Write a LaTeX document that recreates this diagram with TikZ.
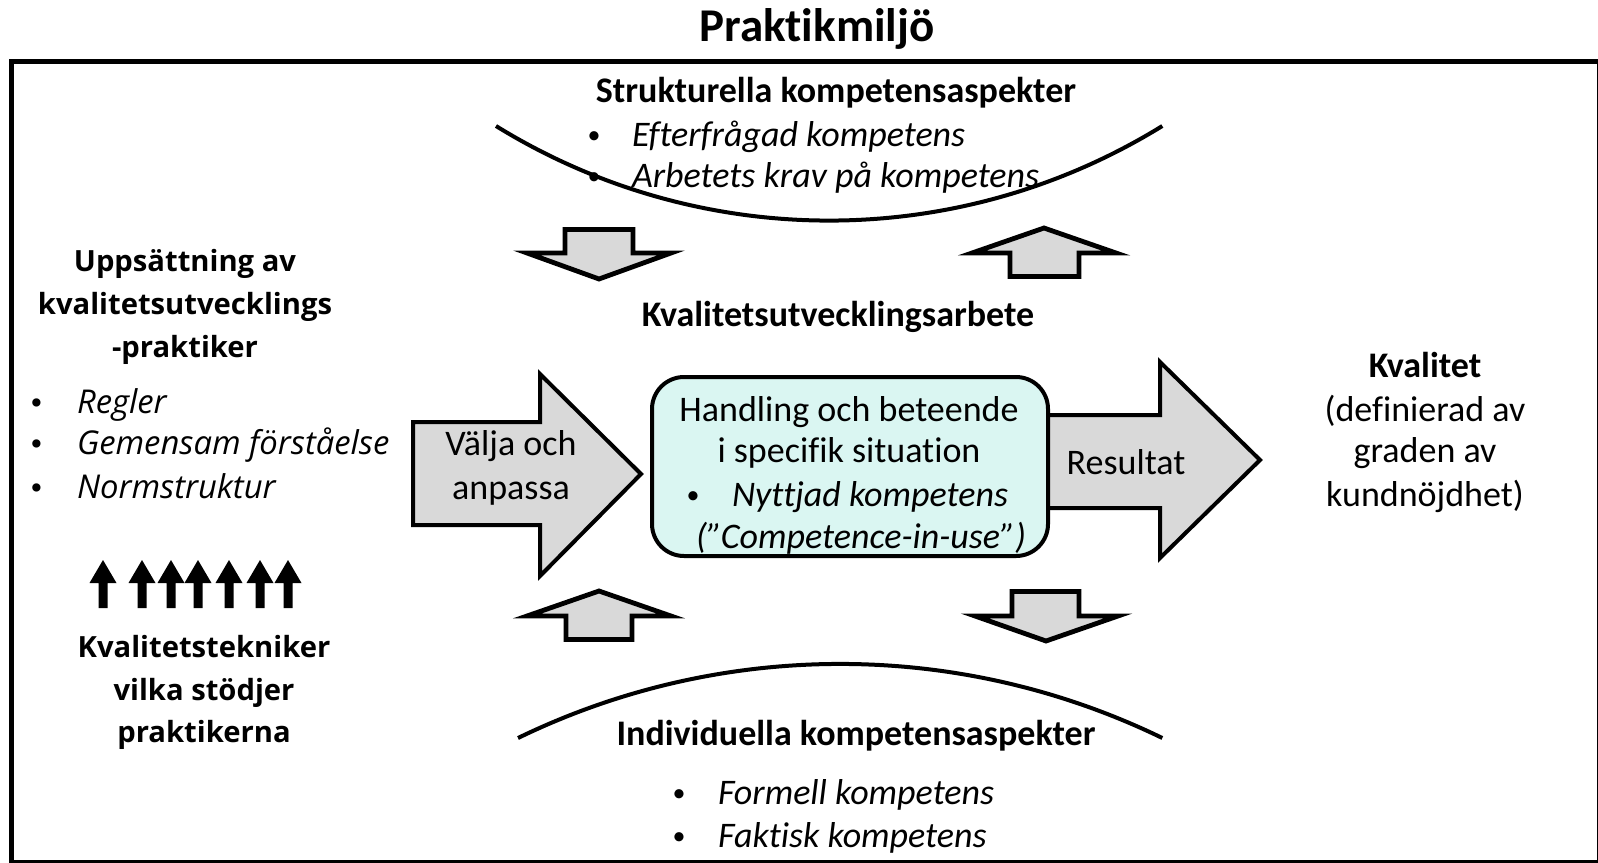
\documentclass[tikz,border=0pt]{standalone}
\usepackage{fontspec}
\usepackage{graphicx}
\setmainfont{Carlito}[RawFeature={-liga;-clig;-dlig}]
\newfontfamily\sidefont{Open Sans}
\newfontfamily\bulletfont{DejaVu Sans}
\definecolor{arrowgray}{HTML}{D9D9D9}
\definecolor{boxcyan}{HTML}{DAF6F2}
\newcommand{\smallbullet}{\raisebox{1.2pt}{\scalebox{0.72}{•}}}
\begin{document}
\begin{tikzpicture}[x=0.5pt,y=-0.5pt,
  every node/.style={inner sep=0pt, outer sep=0pt},
  body/.style={font=\fontsize{18}{21.3}\selectfont},
  bodyb/.style={font=\fontsize{18}{21.3}\selectfont\bfseries},
  bodyi/.style={font=\fontsize{18}{21.3}\selectfont\itshape},
  sideb/.style={font=\sidefont\fontsize{14.6}{21}\selectfont\bfseries},
  sidei/.style={font=\sidefont\fontsize{16.4}{21}\selectfont\itshape},
  sider/.style={font=\bulletfont\fontsize{14.2}{21}\selectfont},
  blockarrow/.style={draw=black, fill=arrowgray, line width=2pt, line join=miter},
  smallarrow/.style={draw=black, fill=arrowgray, line width=2.4pt, line join=miter},
  arcline/.style={draw=black, line width=2pt},
  techarrow/.style={fill=black, draw=none}]
\useasboundingbox (0,0) rectangle (1598,862);
\clip (0,0) rectangle (1598,862);

% outer frame of the practice environment
\draw[line width=2.5pt] (11.5,61.5) rectangle (1599,862.5);

% title
\node[font=\fontsize{23.5}{28}\selectfont\bfseries, anchor=base] (title) at (817,41) {Praktikmiljö};

% structural aspects: arc and text
\draw[arcline] (496,126) arc[start angle=238.3, end angle=301.7, radius=317pt];
\node[bodyb, anchor=base] (struct) at (836,102) {Strukturella kompetensaspekter};
\node[body, anchor=base] (sb1) at (594,146) {\smallbullet};
\node[bodyi, anchor=base west] (st1) at (632,146) {Efterfrågad kompetens};
\node[body, anchor=base] (sb2) at (594,187) {\smallbullet};
\node[bodyi, anchor=base west] (st2) at (632,187) {Arbetets krav på kompetens};

% individual aspects: arc and text
\draw[arcline] (518,738) arc[start angle=115.9, end angle=64.1, radius=368.8pt];
\node[bodyb, anchor=base] (indiv) at (856,745) {Individuella kompetensaspekter};
\node[body, anchor=base] (ib1) at (679,804) {\smallbullet};
\node[bodyi, anchor=base west] (it1) at (718,804) {Formell kompetens};
\node[body, anchor=base] (ib2) at (679,847) {\smallbullet};
\node[bodyi, anchor=base west] (it2) at (718,847) {Faktisk kompetens};

% small exchange arrows between the aspects and the work
% down, top left
\draw[smallarrow] (565,229.5) -- (633,229.5) -- (633,253) -- (671,253) -- (599,279)
  -- (527,253) -- (565,253) -- cycle;
% up, top right
\draw[smallarrow] (1010,276.5) -- (1079,276.5) -- (1079,253) -- (1116,253) -- (1044,228)
  -- (972,253) -- (1010,253) -- cycle;
% up, bottom left
\draw[smallarrow] (566,639.5) -- (632,639.5) -- (632,616) -- (671,616) -- (599,591)
  -- (527,616) -- (566,616) -- cycle;
% down, bottom right
\draw[smallarrow] (1012,591.5) -- (1079,591.5) -- (1079,616) -- (1118,616) -- (1046,641)
  -- (975,616) -- (1012,616) -- cycle;

\node[bodyb, anchor=base] (work) at (838,326) {Kvalitetsutvecklingsarbete};

% result arrow, drawn below the central box
\draw[blockarrow] (1040,415) -- (1160,415) -- (1160,362) -- (1260,460) -- (1160,558)
  -- (1160,508) -- (1040,508) -- cycle;
\node[body, anchor=base] (result) at (1126,474) {Resultat};

% central box
\draw[blockarrow, fill=boxcyan, rounded corners=16pt] (652,377) rectangle (1048,556);
\node[body, anchor=base] (h1) at (849,421) {Handling och beteende};
\node[body, anchor=base] (h2) at (849,462) {i specifik situation};
\node[body, anchor=base] (hb) at (693,506) {\smallbullet};
\node[bodyi, anchor=base west] (h3) at (732,506) {Nyttjad kompetens};
\node[bodyi, anchor=base] (h4) at (861,548) {(”Competence-in-use”)};

% choose-and-adapt arrow
\draw[blockarrow] (413,422) -- (540,422) -- (540,374) -- (641,474) -- (540,576)
  -- (540,525) -- (413,525) -- cycle;
\node[body, anchor=base] (v1) at (511,455) {Välja och};
\node[body, anchor=base] (v2) at (511,499) {anpassa};

% quality
\node[bodyb, anchor=base] (q0) at (1425,377) {Kvalitet};
\node[body, anchor=base] (q1) at (1425,421) {(definierad av};
\node[body, anchor=base] (q2) at (1425,462) {graden av};
\node[body, anchor=base] (q3) at (1425,506) {kundnöjdhet)};

% set of practices
\node[sideb, anchor=base] (p1) at (185,271) {Uppsättning av};
\node[sideb, anchor=base] (p2) at (185,314) {kvalitetsutvecklings};
\node[sideb, anchor=base] (p3) at (185,357) {-praktiker};
\node[sider, anchor=base] (pb1) at (37,413) {•};
\node[sidei, anchor=base west] (pt1) at (77,413) {Regler};
\node[sider, anchor=base] (pb2) at (37,454) {•};
\node[sidei, anchor=base west] (pt2) at (77,454) {Gemensam förståelse};
\node[sider, anchor=base] (pb3) at (37,498) {•};
\node[sidei, anchor=base west] (pt3) at (77,498) {Normstruktur};

% supporting techniques
\foreach \cx in {103,142,171,198,229,260,288}{
  \fill[techarrow] (\cx-4.5,608) -- (\cx+4.5,608) -- (\cx+4.5,583) -- (\cx+13.5,583)
    -- (\cx,560) -- (\cx-13.5,583) -- (\cx-4.5,583) -- cycle;
}
\node[sideb, anchor=base] (k1) at (204,657) {Kvalitetstekniker};
\node[sideb, anchor=base] (k2) at (204,700) {vilka stödjer};
\node[sideb, anchor=base] (k3) at (204,742) {praktikerna};
\end{tikzpicture}
\end{document}
